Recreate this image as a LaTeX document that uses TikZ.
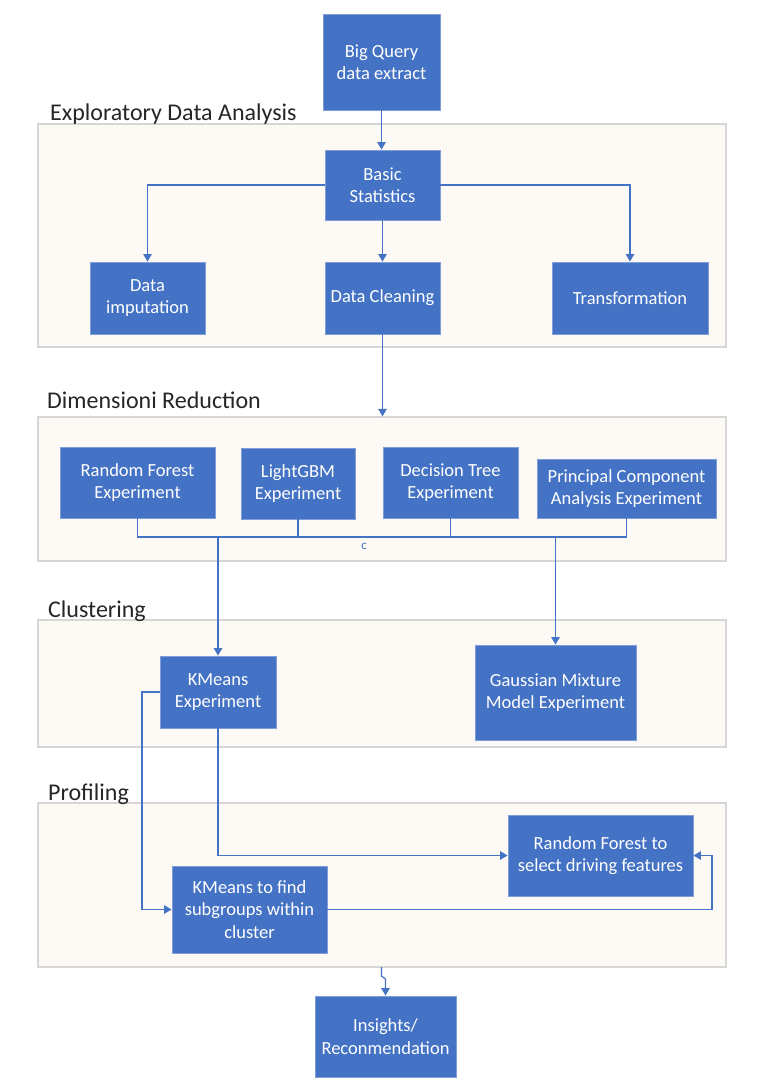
\documentclass[tikz,border=0pt]{standalone}
\usepackage{fontspec}
\setmainfont{Carlito}
\usetikzlibrary{arrows.meta,calc}
\definecolor{boxblue}{HTML}{4472C4}
\definecolor{boxedge}{HTML}{7F9DD6}
\definecolor{panelfill}{HTML}{FDFAF5}
\definecolor{paneledge}{HTML}{D6D6D6}
\definecolor{titlegray}{HTML}{262626}
\tikzset{
  box/.style={rectangle, fill=boxblue, draw=boxedge, line width=0.9pt, text=white, inner sep=0pt, align=center,
    font=\fontsize{18.5}{22.5}\selectfont},
  panel/.style={rectangle, fill=panelfill, draw=paneledge, line width=1.3pt, inner sep=0pt},
  sectitle/.style={anchor=base west, inner sep=0pt, text=titlegray, font=\fontsize{24}{28}\selectfont},
  conn/.style={draw=boxblue, line width=1.2pt},
  arr/.style={conn, -{Triangle[length=7.5pt,width=8.5pt]}},
  smalllabel/.style={text=boxblue, inner sep=0pt, font=\fontsize{13}{14}\selectfont}
}
\begin{document}
\begin{tikzpicture}[x=1pt,y=-1pt]
\useasboundingbox (0,0) rectangle (763,1090);
\fill[white] (0,0) rectangle (763,1090);
% panels
\node[panel, minimum width=688pt, minimum height=223pt] (eda) at (382,235.5) {};
\node[panel, minimum width=688pt, minimum height=144pt] (dr) at (382,489) {};
\node[panel, minimum width=688pt, minimum height=127pt] (cl) at (382,683.5) {};
\node[panel, minimum width=688pt, minimum height=164pt] (pr) at (382,885) {};
% titles
\node[sectitle] (t1) at (50,120.7) {Exploratory Data Analysis};
\node[sectitle] (t2) at (47,408) {Dimensioni Reduction};
\node[sectitle] (t3) at (48,617) {Clustering};
\node[sectitle] (t4) at (48,800) {Profiling};
% boxes
\node[box, minimum width=117pt, minimum height=96pt] (bq) at (381.5,62) {Big Query\\data extract};
\node[box, minimum width=115pt, minimum height=70pt] (bs) at (382.5,185) {Basic\\Statistics};
\node[box, minimum width=115pt, minimum height=72pt] (di) at (147.5,298) {Data\\imputation};
\node[box, minimum width=115pt, minimum height=72pt] (dc) at (382.5,298) {Data Cleaning};
\node[box, minimum width=156pt, minimum height=72pt] (tr) at (630,298) {Transformation};
\node[box, minimum width=155pt, minimum height=71pt] (rf) at (137.5,482.5) {Random Forest\\Experiment};
\node[box, minimum width=114pt, minimum height=71pt] (lg) at (298,483.5) {LightGBM\\Experiment};
\node[box, minimum width=135pt, minimum height=71pt] (dt) at (450.5,482.5) {Decision Tree\\Experiment};
\node[box, minimum width=179pt, minimum height=59pt] (pca) at (626.5,488.5) {Principal Component\\Analysis Experiment};
\node[box, minimum width=116pt, minimum height=72pt] (km) at (218,692) {KMeans\\Experiment};
\node[box, minimum width=161pt, minimum height=95pt] (gmm) at (555.5,692.5) {Gaussian Mixture\\Model Experiment};
\node[box, minimum width=185pt, minimum height=81pt] (rfs) at (600.5,855.5) {Random Forest to\\select driving features};
\node[box, minimum width=155pt, minimum height=87pt] (kms) at (249.5,909.5) {KMeans to find\\subgroups within\\cluster};
\node[box, minimum width=141pt, minimum height=81pt] (ins) at (385.5,1036.5) {Insights/\\Reconmendation};
% connectors EDA
\draw[arr] (bq.south) -- (bq.south |- bs.north);
\draw[arr] (bs.west) -| (di.north);
\draw[arr] (bs.east) -| (tr.north);
\draw[arr] (bs.south -| dc.north) -- (dc.north);
\draw[arr] (dc.south) -- (dc.south |- dr.north);
% bus
\coordinate (busy) at (0,537);
\coordinate (busL) at (rf.south |- busy);
\coordinate (busR) at (pca.south |- busy);
\draw[conn] (rf.south) -- (busL) -- (busR) -- (pca.south);
\draw[conn] (lg.south) -- (lg.south |- busy);
\draw[conn] (dt.south) -- (dt.south |- busy);
\draw[arr] (km.north |- busy) -- (km.north);
\draw[arr] (gmm.north |- busy) -- (gmm.north);
\node[smalllabel] (clab) at (364,546) {c};
% profiling connectors
\draw[arr] (km.south) |- (rfs.west);
\coordinate (kl) at (142,692);
\draw[arr] (km.west) -- (kl) |- (kms.west);
\coordinate (kr) at (712,909.5);
\draw[arr] (kms.east) -- (kr) |- (rfs.east);
% bottom
\coordinate (b0) at (381.5,967);
\coordinate (b1) at (381.5,976);
\coordinate (b2) at (385.5,979);
\draw[arr] (b0) -- (b1) -- (b2) -- (ins.north);
\end{tikzpicture}
\end{document}
